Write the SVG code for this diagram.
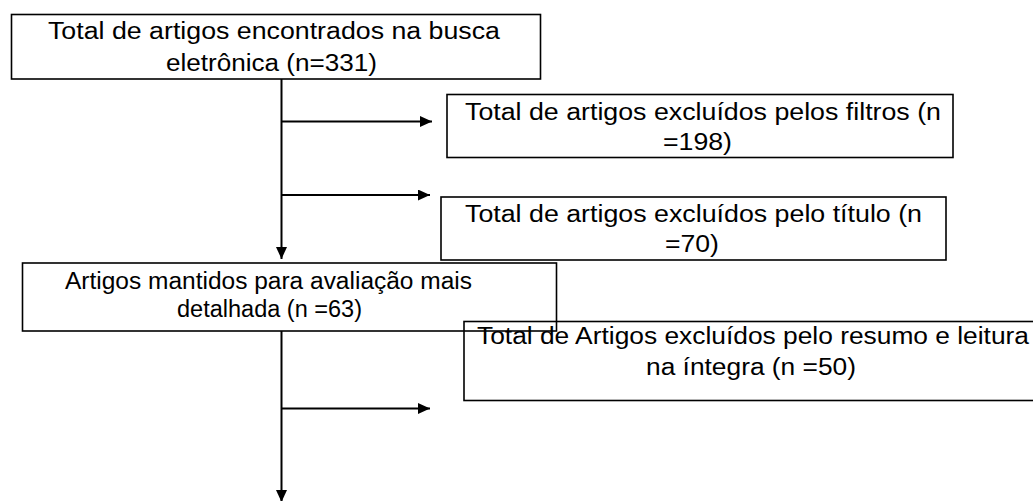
<svg xmlns="http://www.w3.org/2000/svg" width="1033" height="501" viewBox="0 0 1033 501">
<style>
.box{fill:none;stroke:#000;stroke-width:1.6}
.t{font-family:"Liberation Sans",Arial,sans-serif;font-size:23.5px;fill:#000}
.c{fill:none;stroke:#000;stroke-width:2}
</style>
<defs>
<marker id="ah" markerUnits="userSpaceOnUse" markerWidth="12" markerHeight="11" refX="12" refY="5.5" orient="auto">
<path d="M0,0 L12,5.5 L0,11 z" fill="#000"/>
</marker>
</defs>
<rect x="0" y="0" width="1033" height="501" fill="#fff"/>
<g id="connectors">
<line class="c" x1="281.5" y1="79" x2="281.5" y2="259" marker-end="url(#ah)"/>
<line class="c" x1="281.5" y1="121.5" x2="432" y2="121.5" marker-end="url(#ah)"/>
<line class="c" x1="281.5" y1="195" x2="430" y2="195" marker-end="url(#ah)"/>
<line class="c" x1="281.5" y1="331" x2="281.5" y2="502" marker-end="url(#ah)"/>
<line class="c" x1="281.5" y1="408.5" x2="430" y2="408.5" marker-end="url(#ah)"/>
</g>
<g id="n1">
<rect class="box" x="11.5" y="14.5" width="529" height="64.5"/>
<text class="t" x="48" y="39" textLength="452" lengthAdjust="spacingAndGlyphs">Total de artigos encontrados na busca</text>
<text class="t" x="166" y="71" textLength="211" lengthAdjust="spacingAndGlyphs">eletrônica (n=331)</text>
</g>
<g id="n2">
<rect class="box" x="447" y="94.5" width="506" height="63"/>
<text class="t" x="465" y="120" textLength="476" lengthAdjust="spacingAndGlyphs">Total de artigos excluídos pelos filtros (n</text>
<text class="t" x="663" y="150" textLength="69" lengthAdjust="spacingAndGlyphs">=198)</text>
</g>
<g id="n3">
<rect class="box" x="441" y="197" width="505" height="63"/>
<text class="t" x="465" y="222" textLength="457" lengthAdjust="spacingAndGlyphs">Total de artigos excluídos pelo título (n</text>
<text class="t" x="665" y="252" textLength="54" lengthAdjust="spacingAndGlyphs">=70)</text>
</g>
<g id="n4">
<rect class="box" x="22.5" y="263" width="534" height="68"/>
<text class="t" x="65" y="289" textLength="407" lengthAdjust="spacingAndGlyphs">Artigos mantidos para avaliação mais</text>
<text class="t" x="177" y="317" textLength="185" lengthAdjust="spacingAndGlyphs">detalhada (n =63)</text>
</g>
<g id="n5">
<rect class="box" x="464" y="321.5" width="576" height="79"/>
<text class="t" x="477" y="344" textLength="552" lengthAdjust="spacingAndGlyphs">Total de Artigos excluídos pelo resumo e leitura</text>
<text class="t" x="646" y="375" textLength="210" lengthAdjust="spacingAndGlyphs">na íntegra (n =50)</text>
</g>
</svg>
